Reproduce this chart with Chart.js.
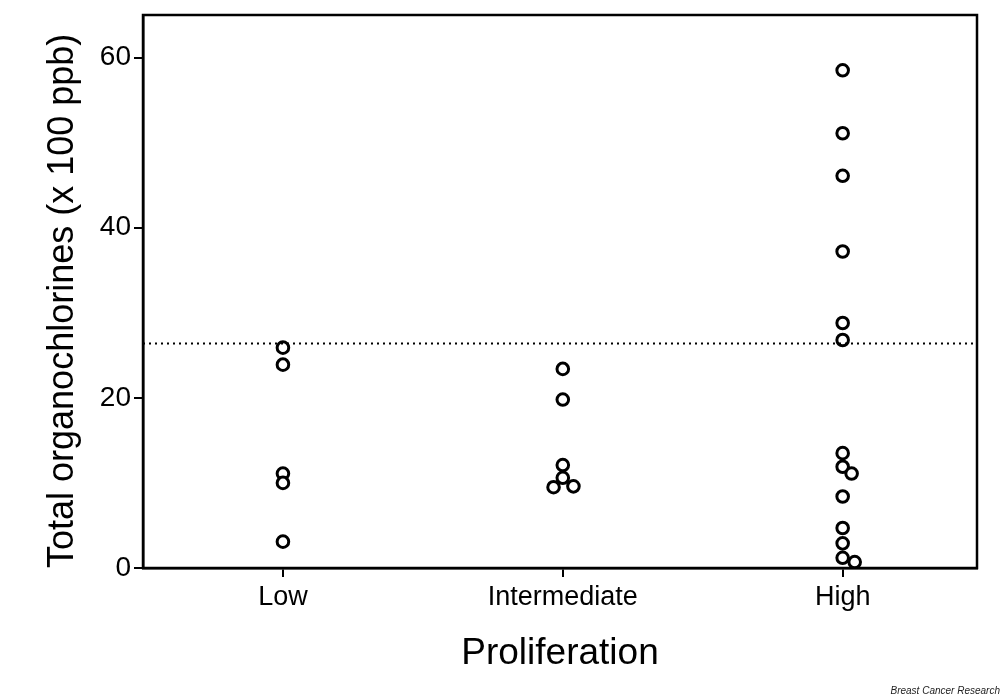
<!DOCTYPE html>
<html>
<head>
<meta charset="utf-8">
<script src="https://cdn.jsdelivr.net/npm/chart.js@4.4.1/dist/chart.umd.min.js"></script>
<style>
    html, body { margin: 0; padding: 0; background: #fff; }
    #wrap { position: relative; width: 1004px; height: 697px; }
    #credit { position: absolute; right: 4px; bottom: 1px; font: italic 10px "Liberation Sans", Arial, sans-serif; color: #222; }
</style>
</head>
<body>
<div id="wrap">
    <canvas id="chart" width="1004" height="697"></canvas>
    <div id="credit">Breast Cancer Research</div>
</div>
<script>
const categories = ['Low', 'Intermediate', 'High'];
const yTicks = [0, 20, 40, 60];

// values, x 100 ppb
const lowValues = [25.9, 23.9, 11.1, 10.0, 3.1];
const lowJitter = [0, 0, 0, 0, 0];
const intermediateValues = [23.4, 19.8, 12.1, 10.6, 9.5, 9.6];
const intermediateJitter = [0, 0, 0, 0, -0.033, 0.038];
const highValues = [58.5, 51.1, 46.1, 37.2, 28.8, 26.8, 13.5, 11.9, 11.1, 8.4, 4.7, 2.9, 1.2, 0.7];
const highJitter = [0, 0, 0, 0, 0, 0, 0, 0, 0.032, 0, 0, 0, 0, 0.043];
const cutoff = 26.4;

const xMin = 0.5, xMax = 3.48;
const FONT = '"Liberation Sans", Arial, Helvetica, sans-serif';

function toPoints(catIdx, vals, jit) {
    return vals.map((v, i) => ({x: catIdx + 1 + jit[i], y: v}));
}

const points = [
    ...toPoints(0, lowValues, lowJitter),
    ...toPoints(1, intermediateValues, intermediateJitter),
    ...toPoints(2, highValues, highJitter)
];

const frame = {
    id: 'frame',
    afterDraw(chart) {
        const a = chart.chartArea, c = chart.ctx;
        c.save();
        c.strokeStyle = '#000';
        c.lineWidth = 2.5;
        c.strokeRect(a.left, a.top, a.right - a.left, a.bottom - a.top);
        c.restore();
    }
};

new Chart(document.getElementById('chart'), {
    type: 'scatter',
    data: {
        datasets: [
            {
                type: 'line',
                data: [{x: xMin, y: cutoff}, {x: xMax, y: cutoff}],
                borderColor: '#000',
                borderWidth: 2,
                borderDash: [2, 4],
                pointRadius: 0,
                fill: false
            },
            {
                data: points,
                pointRadius: 5.8,
                pointBorderWidth: 3,
                pointBackgroundColor: '#fff',
                pointBorderColor: '#000'
            }
        ]
    },
    plugins: [frame],
    options: {
        responsive: false,
        animation: false,
        layout: {padding: {top: 15, right: 27, left: 0, bottom: 0}},
        plugins: {legend: {display: false}, tooltip: {enabled: false}},
        scales: {
            x: {
                type: 'linear',
                min: xMin,
                max: xMax,
                afterBuildTicks: s => { s.ticks = categories.map((_, i) => ({value: i + 1})); },
                afterFit: s => { s.height = 129; s.paddingLeft = 0; s.paddingRight = 0; },
                grid: {drawOnChartArea: false, drawTicks: true, tickLength: 9, color: '#000', lineWidth: 2},
                border: {display: true, color: '#000', width: 2.5},
                ticks: {
                    padding: 4,
                    color: '#000',
                    font: {family: FONT, size: 27},
                    callback: v => categories[Math.round(v) - 1] || ''
                },
                title: {
                    display: true,
                    text: 'Proliferation',
                    color: '#000',
                    font: {family: FONT, size: 37},
                    padding: {top: 0, bottom: 21}
                }
            },
            y: {
                min: 0,
                max: 65,
                afterBuildTicks: s => { s.ticks = yTicks.map(v => ({value: v})); },
                afterFit: s => { s.width = 143; s.paddingTop = 0; s.paddingBottom = 0; },
                grid: {drawOnChartArea: false, drawTicks: true, tickLength: 9, color: '#000', lineWidth: 2},
                border: {display: true, color: '#000', width: 2.5},
                ticks: {
                    padding: 3,
                    color: '#000',
                    font: {family: FONT, size: 28}
                },
                title: {
                    display: true,
                    text: 'Total organochlorines (x 100 ppb)',
                    align: 'start',
                    color: '#000',
                    font: {family: FONT, size: 36},
                    padding: {top: 41, bottom: 0}
                }
            }
        }
    }
});
</script>
</body>
</html>
